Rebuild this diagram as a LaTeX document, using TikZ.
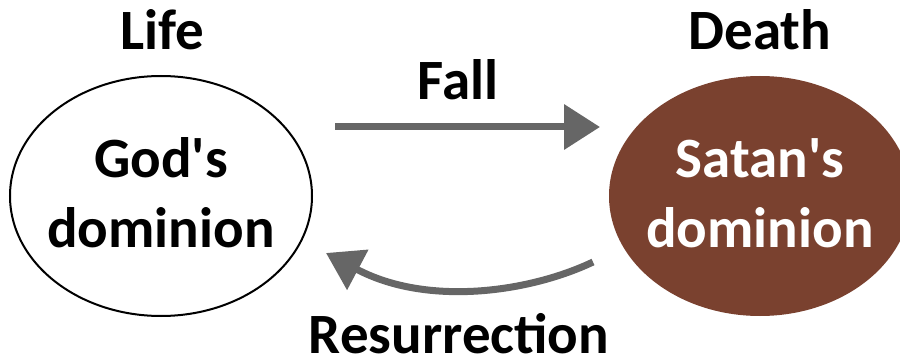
\documentclass[tikz,border=0pt]{standalone}
\usepackage{fontspec}
\setmainfont{Carlito}
\usetikzlibrary{arrows.meta,shapes.geometric}
\definecolor{satanbrown}{RGB}{122,65,47}
\definecolor{arrowgray}{RGB}{102,102,102}
\begin{document}
\begin{tikzpicture}[x=1pt, y=1pt,
    txt/.style={font=\fontsize{57}{70}\selectfont\bfseries, inner sep=0pt},
    realm/.style={ellipse, minimum width=302pt, minimum height=240pt, inner sep=0pt},
    flow/.style={draw=arrowgray, line width=7pt, -{Triangle[length=36pt, width=44pt]}}]
  \useasboundingbox (0,0) rectangle (900,362);
  % the two dominions
  \node[realm, draw=black, line width=2pt] (god) at (161,166) {};
  \node[realm, fill=satanbrown] (satan) at (760,166) {};
  \node[txt, align=center] (godtxt) at ([yshift=3pt]god.center) {God\textquotesingle s\\dominion};
  \node[txt, align=center, text=white] (satantxt) at ([yshift=3pt]satan.center) {Satan\textquotesingle s\\dominion};
  \node[txt, anchor=base] (life) at (162,312) {Life};
  \node[txt, anchor=base] (death) at (760,312) {Death};
  % fall and resurrection
  \coordinate (fallA) at (335,235);
  \coordinate (fallB) at (600,235);
  \draw[flow] (fallA) -- (fallB);
  \node[txt, anchor=base] (fall) at (458,262) {Fall};
  \coordinate (riseA) at (593,100);
  \coordinate (riseB) at (326,109);
  \draw[flow] (riseA) .. controls (530,70) and (428,55) .. (riseB);
  \node[txt, anchor=base] (rise) at (459,9) {Resurrection};
\end{tikzpicture}
\end{document}
